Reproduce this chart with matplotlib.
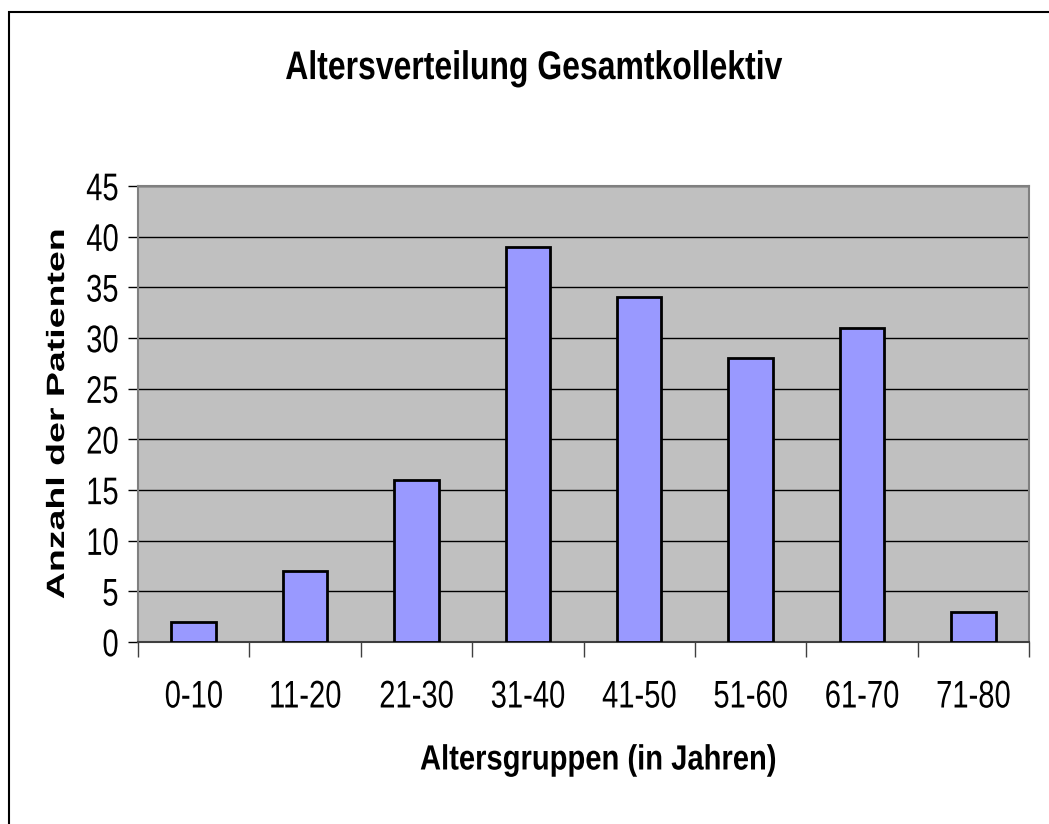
import matplotlib
matplotlib.use('Agg')
import matplotlib.pyplot as plt
from matplotlib.patches import Rectangle
from matplotlib.patheffects import AbstractPathEffect
from matplotlib.transforms import Affine2D

groups = ['0-10', '11-20', '21-30', '31-40', '41-50', '51-60', '61-70', '71-80']
patients = [2, 7, 16, 39, 34, 28, 31, 3]
yticks = [0, 5, 10, 15, 20, 25, 30, 35, 40, 45]

FONT = 'Liberation Sans'


class Stretch(AbstractPathEffect):
    """Stretch text glyphs vertically about their own centre."""

    def __init__(self, sy):
        super().__init__()
        self.sy = sy

    def draw_path(self, renderer, gc, tpath, affine, rgbFace=None):
        ext = tpath.get_extents(affine)
        cy = 0.5 * (ext.y0 + ext.y1)
        stretch = Affine2D().translate(0, -cy).scale(1, self.sy).translate(0, cy)
        renderer.draw_path(gc, tpath, affine + stretch, rgbFace)


W, H = 1049, 824
fig = plt.figure(figsize=(W / 100, H / 100), dpi=100, facecolor='white')

# thin frame around the chart
fig.patches.append(Rectangle((9 / W, -0.01), 1.02, 1 - 12 / H + 0.01,
                             transform=fig.transFigure, fill=False,
                             edgecolor='black', lw=1.5))

ax = fig.add_axes([138 / W, 1 - 642 / H, (1029 - 138) / W, (642 - 186) / H])
ax.set_facecolor('#c0c0c0')
x = list(range(len(groups)))
ax.bar(x, patients, width=0.4, color='#9999ff', edgecolor='black', lw=2, zorder=3)

ax.set_xlim(-0.5, len(groups) - 0.5)
ax.set_ylim(0, 45)
ax.set_yticks(yticks)
ax.yaxis.grid(True, color='black', lw=1, zorder=1)
ax.set_axisbelow(True)

# category ticks sit on the boundaries, labels in the middle
ax.set_xticks([i - 0.5 for i in range(len(groups) + 1)])
ax.set_xticklabels([])
ax.set_xticks(x, minor=True)
ax.set_xticklabels(groups, minor=True, fontsize=21, family=FONT)
ax.tick_params(axis='x', which='major', length=11, width=1, color='#404040')
ax.tick_params(axis='x', which='minor', length=0, pad=29)
ax.tick_params(axis='y', length=7, width=1, labelsize=21, pad=7)

tall = [Stretch(1.32)]
for lab in ax.get_yticklabels() + ax.get_xticklabels(minor=True):
    lab.set_family(FONT)
    lab.set_path_effects(tall)

for side in ['left', 'top', 'right']:
    ax.spines[side].set_color('#808080')
    ax.spines[side].set_linewidth(1.5)
ax.spines['bottom'].set_color('#404040')
ax.spines['bottom'].set_linewidth(1.5)

fig.text(534 / W, 1 - 69 / H, 'Altersverteilung Gesamtkollektiv', ha='center',
         va='center', fontsize=23, fontweight='bold', family=FONT,
         path_effects=[Stretch(1.25)])
fig.text(598 / W, 1 - 760 / H, 'Altersgruppen (in Jahren)', ha='center',
         va='center', fontsize=21, fontweight='bold', family=FONT,
         path_effects=[Stretch(1.2)])
fig.text(57 / W, 1 - 414 / H, 'Anzahl der Patienten', ha='center', va='center',
         rotation=90, fontsize=18, fontweight='bold', family=FONT,
         path_effects=[Stretch(1.5)])

fig.savefig('out.png', dpi=100, facecolor='white')
